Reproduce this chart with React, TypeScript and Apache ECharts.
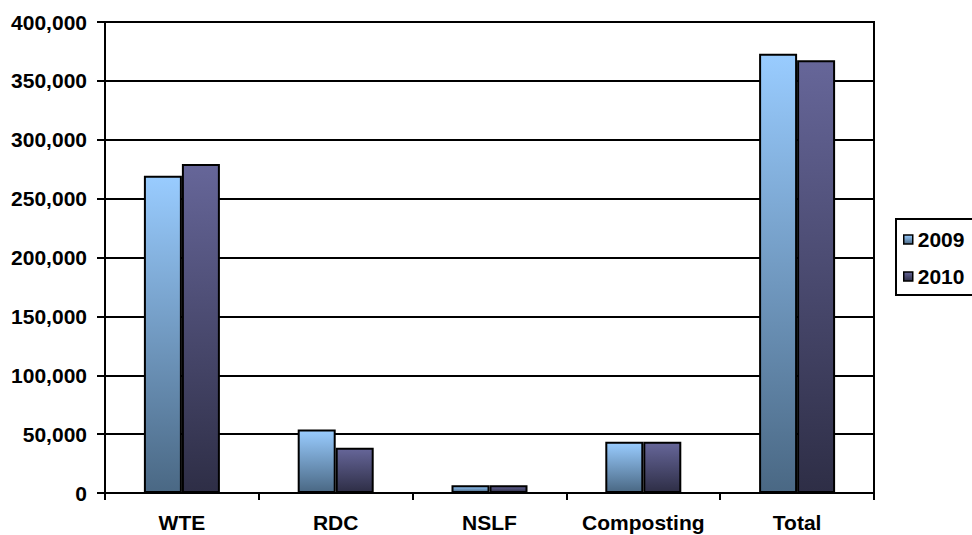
import React, { useEffect, useRef } from "react";
import * as echarts from "echarts";

const categories = ["WTE", "RDC", "NSLF", "Composting", "Total"];
const series2009 = [269500, 54000, 6500, 43500, 373000];
const series2010 = [279500, 38500, 6500, 43500, 367500];
const seriesNames = ["2009", "2010"];
const yMin = 0;
const yMax = 400000;
const yStep = 50000;

const FONT = "Arial, 'Liberation Sans', sans-serif";

export default function App() {
  const ref = useRef<HTMLDivElement>(null);

  useEffect(() => {
    if (!ref.current) return;
    const chart = echarts.init(ref.current, undefined, { renderer: "svg" });
    const grad = (top: string, bottom: string) =>
      new echarts.graphic.LinearGradient(0, 0, 0, 1, [
        { offset: 0, color: top },
        { offset: 1, color: bottom },
      ]);
    chart.setOption({
      animation: false,
      backgroundColor: "#ffffff",
      textStyle: { fontFamily: FONT },
      grid: {
        left: 105,
        right: 98,
        top: 22,
        bottom: 42,
        show: true,
        borderColor: "#000",
        borderWidth: 2,
        backgroundColor: "transparent",
      },
      legend: {
        orient: "vertical",
        left: 896,
        top: 219,
        padding: [10, 20, 8, 7],
        itemGap: 16,
        itemWidth: 9,
        itemHeight: 9,
        icon: "rect",
        borderColor: "#000",
        borderWidth: 2,
        itemStyle: { borderColor: "#000", borderWidth: 1.5 },
        textStyle: { fontSize: 21, fontWeight: "bold", color: "#000", fontFamily: FONT },
        data: seriesNames,
      },
      xAxis: {
        type: "category",
        data: categories,
        boundaryGap: true,
        axisLine: { show: true, lineStyle: { color: "#000", width: 2 } },
        axisTick: { show: true, inside: false, length: 7, lineStyle: { color: "#000", width: 2 } },
        axisLabel: {
          margin: 19,
          fontSize: 21,
          fontWeight: "bold",
          color: "#000",
          fontFamily: FONT,
          interval: 0,
        },
      },
      yAxis: {
        type: "value",
        min: yMin,
        max: yMax,
        interval: yStep,
        axisLine: { show: true, lineStyle: { color: "#000", width: 2 } },
        axisTick: { show: true, inside: false, length: 8, lineStyle: { color: "#000", width: 2 } },
        splitLine: { show: true, lineStyle: { color: "#000", width: 2 } },
        axisLabel: {
          margin: 18,
          fontSize: 21,
          fontWeight: "bold",
          color: "#000",
          fontFamily: FONT,
          formatter: (v: number) => v.toLocaleString("en-US"),
        },
      },
      series: [
        {
          name: seriesNames[0],
          type: "bar",
          data: series2009,
          barWidth: 38,
          barGap: "0%",
          itemStyle: {
            color: grad("#99CCFF", "#4A6884"),
            borderColor: "#000",
            borderWidth: 2,
          },
        },
        {
          name: seriesNames[1],
          type: "bar",
          data: series2010,
          barWidth: 38,
          barGap: "0%",
          itemStyle: {
            color: grad("#666699", "#2E2E46"),
            borderColor: "#000",
            borderWidth: 2,
          },
        },
      ],
    });
    return () => chart.dispose();
  }, []);

  return (
    <div
      ref={ref}
      style={{ position: "fixed", left: 0, top: 0, width: 972, height: 535 }}
    />
  );
}
